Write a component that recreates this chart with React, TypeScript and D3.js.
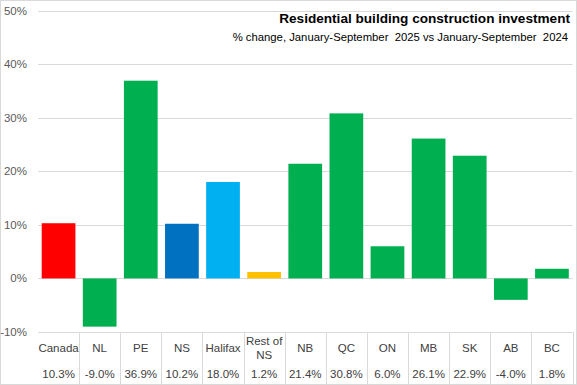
import React from "react";
import * as d3 from "d3";

const categories: string[][] = [["Canada"], ["NL"], ["PE"], ["NS"], ["Halifax"], ["Rest of", "NS"], ["NB"], ["QC"], ["ON"], ["MB"], ["SK"], ["AB"], ["BC"]];
const values: number[] = [10.3, -9.0, 36.9, 10.2, 18.0, 1.2, 21.4, 30.8, 6.0, 26.1, 22.9, -4.0, 1.8];
const barColors: string[] = ["#FF0000", "#00B050", "#00B050", "#0070C0", "#00B0F0", "#FFC000", "#00B050", "#00B050", "#00B050", "#00B050", "#00B050", "#00B050", "#00B050"];
const yTicks: number[] = [-10, 0, 10, 20, 30, 40, 50];
const title = "Residential building construction investment";
const subtitle = "% change, January-September  2025 vs January-September  2024";

const W = 577, H = 385;
const left = 38, right = 572.5, top = 10.5, bottom = 332;
const font = "'Liberation Sans', Arial, sans-serif";

export default function App() {
  const x = d3.scaleBand<number>().domain(d3.range(values.length)).range([left, right]).paddingInner(0.18).paddingOuter(0.09);
  const xb = d3.scaleBand<number>().domain(d3.range(values.length)).range([left, right]).padding(0);
  const y = d3.scaleLinear().domain([-10, 50]).range([bottom, top]);
  return (
    <svg width={W} height={H} style={{ position: "absolute", left: 0, top: 0, background: "#fff" }} fontFamily={font}>
      <rect x={0.5} y={0.5} width={W - 1} height={H - 1} fill="#fff" stroke="#d9d9d9" />
      {yTicks.map((t) => (
        <g key={t}>
          <line x1={left} x2={right} y1={Math.round(y(t)) + 0.5} y2={Math.round(y(t)) + 0.5} stroke="#d9d9d9" />
          <text x={27} y={y(t) + 4} textAnchor="end" fontSize={11.5} fill="#595959">{t}%</text>
        </g>
      ))}
      {values.map((v, i) => (
        <rect key={i} x={x(i)} width={x.bandwidth()} y={y(Math.max(0, v))} height={Math.abs(y(v) - y(0))} fill={barColors[i]} />
      ))}
      {values.map((v, i) => (
        <line key={"s" + i} x1={Math.round(xb(i)! + xb.bandwidth()) + 0.5} x2={Math.round(xb(i)! + xb.bandwidth()) + 0.5} y1={bottom} y2={H} stroke="#d9d9d9" />
      ))}
      {categories.map((c, i) => {
        const cx = xb(i)! + xb.bandwidth() / 2;
        return c.length === 1 ? (
          <text key={"c" + i} x={cx} y={352} textAnchor="middle" fontSize={11.5} fill="#404040">{c[0]}</text>
        ) : (
          <text key={"c" + i} x={cx} textAnchor="middle" fontSize={11.5} fill="#404040">
            <tspan x={cx} y={345}>{c[0]}</tspan>
            <tspan x={cx} y={359}>{c[1]}</tspan>
          </text>
        );
      })}
      {values.map((v, i) => (
        <text key={"v" + i} x={xb(i)! + xb.bandwidth() / 2} y={378} textAnchor="middle" fontSize={11.5} fill="#404040">{v.toFixed(1)}%</text>
      ))}
      <text x={570} y={23} textAnchor="end" fontSize={13.6} fontWeight="bold" fill="#000">{title}</text>
      <text x={568} y={41} textAnchor="end" fontSize={11.3} fill="#000" style={{ whiteSpace: "pre" }}>{subtitle}</text>
    </svg>
  );
}
